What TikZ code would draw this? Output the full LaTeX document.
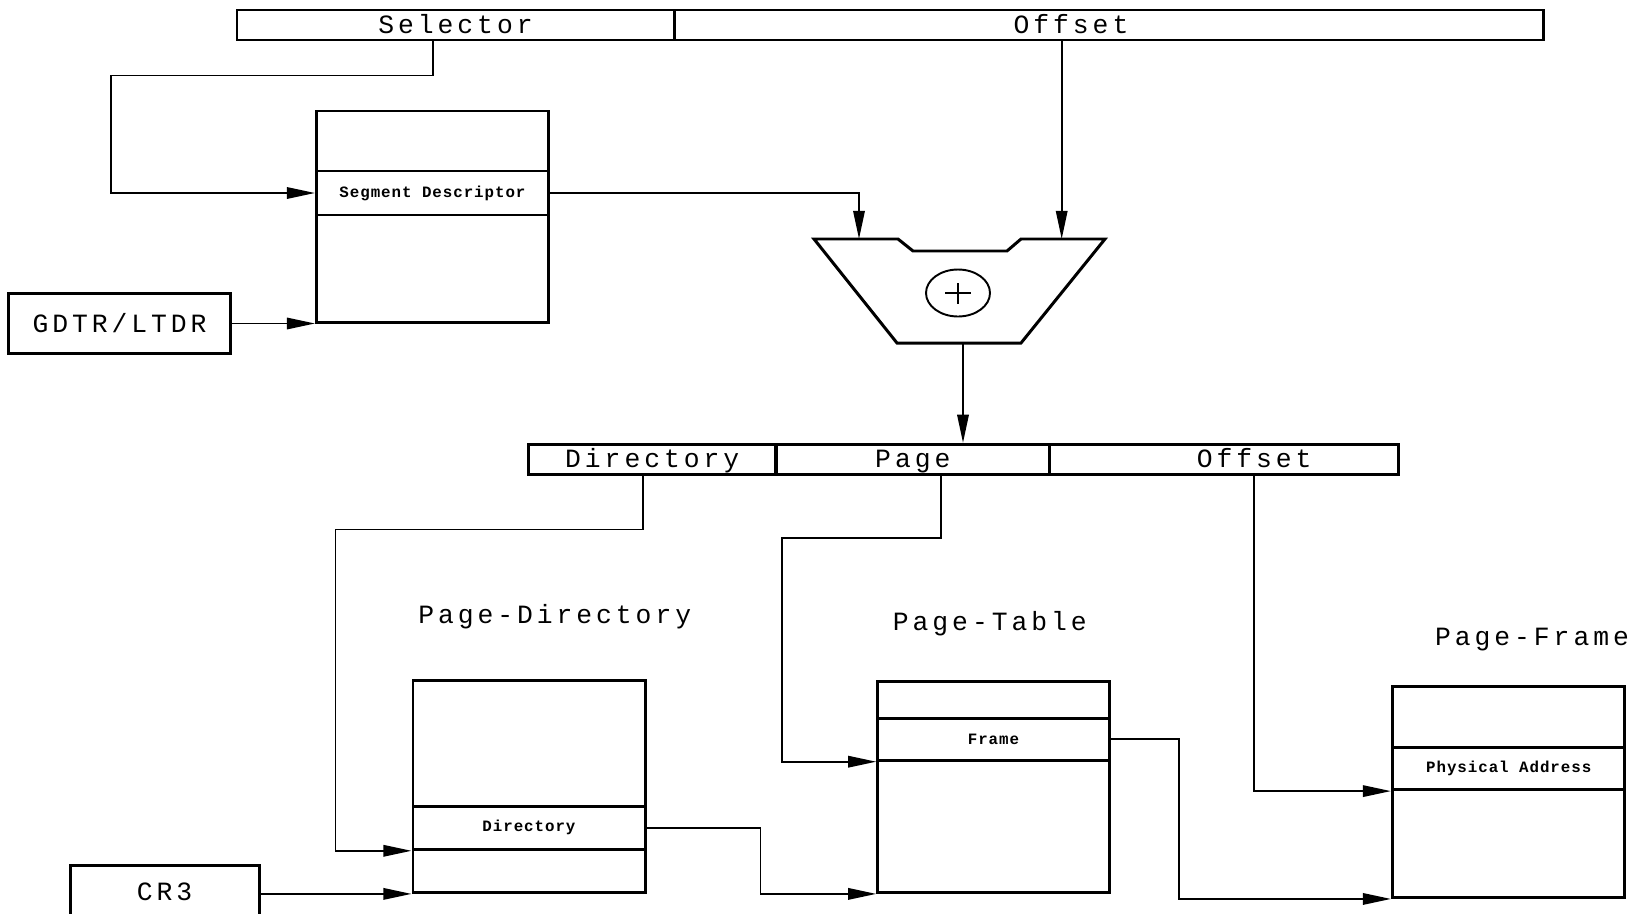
\documentclass[tikz,border=0pt]{standalone}
\usepackage{fontspec}
\usetikzlibrary{arrows.meta,positioning,calc,shapes.geometric}
\setmonofont{Liberation Mono}
\newfontfamily\fieldfont[LetterSpace=15]{Liberation Mono}
\newfontfamily\cellfont[LetterSpace=6]{Liberation Mono}

\begin{document}
\begin{tikzpicture}[
  x=0.2mm, y=-0.2mm,
  field/.style={draw, line width=1.7pt, inner sep=0pt, minimum height=6mm,
                text height=11.2pt, text depth=1.8pt,
                font=\fieldfont\fontsize{15}{18}\selectfont},
  memtab/.style={draw, line width=1.7pt, inner sep=0pt},
  cell/.style={draw, line width=1.7pt, inner sep=0pt,
               font=\cellfont\bfseries\fontsize{9}{11}\selectfont},
  tabtitle/.style={text height=11.2pt, text depth=1.8pt,
                   font=\fieldfont\fontsize{15}{18}\selectfont},
  reg/.style={draw, line width=1.7pt, inner sep=0pt,
              font=\fieldfont\fontsize{15}{18}\selectfont},
  >={Triangle[length=16pt, width=6.5pt]},
  link/.style={->, line width=1.1pt}
]
  \useasboundingbox (0,0) rectangle (1644,913);

  % Logical address
  \node[field, minimum width=87.4mm] (sel) at (455.5,25) {Selector};
  \node[field, minimum width=173.8mm,
        label={[tabtitle, xshift=-7.5mm]center:Offset}] (off) at (1108.5,25) {};

  % Descriptor table
  \node[memtab, minimum width=46.4mm, minimum height=42.2mm] (segtab) at (432.5,216.5) {};
  \node[cell, minimum width=46.4mm, minimum height=8.8mm] (segdesc) at (432.5,193)
    {Segment Descriptor};
  \node[reg, minimum width=44.5mm, minimum height=12mm] (gdtr) at (119.5,323.5) {GDTR/LTDR};

  % Adder
  \draw[line width=1.7pt] (814,239) -- (898,239) -- (913,251) -- (1007,251) -- (1021,239)
    -- (1105,239) -- (1021,343) -- (897,343) -- cycle;
  \node[draw, ellipse, line width=1.1pt, inner sep=0pt,
        minimum width=12.8mm, minimum height=9.4mm] (plus) at (958,293) {};
  \draw[line width=0.6pt] ([xshift=-2.6mm]plus.center) -- ([xshift=2.6mm]plus.center)
                          ([yshift=-2.1mm]plus.center) -- ([yshift=2.1mm]plus.center);
  \coordinate (addl) at (859,239);
  \coordinate (addr) at (1061.7,239);
  \coordinate (addout) at (963,343);

  % Linear address
  \node[field, minimum width=49.5mm] (dir) at (652.2,459.3) {Directory};
  \node[field, minimum width=54.7mm] (page) at (912.8,459.3) {Page};
  \node[field, minimum width=69.8mm,
        label={[tabtitle, xshift=6mm]center:Offset}] (poff) at (1224.1,459.3) {};

  % Page directory
  \node[tabtitle] (pdtitle) at (554.7,615.5) {Page-Directory};
  \node[memtab, minimum width=46.4mm, minimum height=42.4mm] (pdtab) at (529,786.4) {};
  \node[cell, minimum width=46.4mm, minimum height=8.6mm] (pdrow) at (529,827.8) {Directory};
  \node[reg, minimum width=37.8mm, minimum height=10.8mm] (cr3) at (164.6,892) {CR3};

  % Page table
  \node[tabtitle] (pttitle) at (989.8,621.8) {Page-Table};
  \node[memtab, minimum width=46.3mm, minimum height=42.2mm] (pttab) at (993.5,786.9) {};
  \node[cell, minimum width=46.3mm, minimum height=8.4mm] (ptrow) at (993.5,739.2) {Frame};

  % Page frame
  \node[tabtitle] (pftitle) at (1532,637.5) {Page-Frame};
  \node[memtab, minimum width=46.5mm, minimum height=42.1mm] (pftab) at (1508.7,792.2) {};
  \node[cell, minimum width=46.5mm, minimum height=8.4mm] (pfrow) at (1508.7,768.6)
    {Physical Address};

  % Connections
  \draw[link] ([xshift=-4.5mm]sel.south) |- (111,75.5) |- (segdesc.west);
  \draw[link] (gdtr.east |- segtab.south west) -- (segtab.south west);
  \draw[link] (segdesc.east) -| (addl);
  \draw[link] (off.south -| addr) -- (addr);
  \draw[link] (addout) -- (addout |- page.north);
  \draw[link] ([xshift=-1.9mm]dir.south) |- (335.5,529.5) |- (pdrow.south west);
  \draw[link] ([xshift=5.7mm]page.south) |- (782,538) |- (ptrow.south west);
  \draw[link] ([xshift=6mm]poff.south) |- (pfrow.south west);
  \draw[link] (cr3.east |- pdtab.south west) -- (pdtab.south west);
  \draw[link] (pdrow.east) -- ++(114,0) |- (pttab.south west);
  \draw[link] (ptrow.east) -- ++(68,0) |- (pftab.south west);
\end{tikzpicture}
\end{document}
